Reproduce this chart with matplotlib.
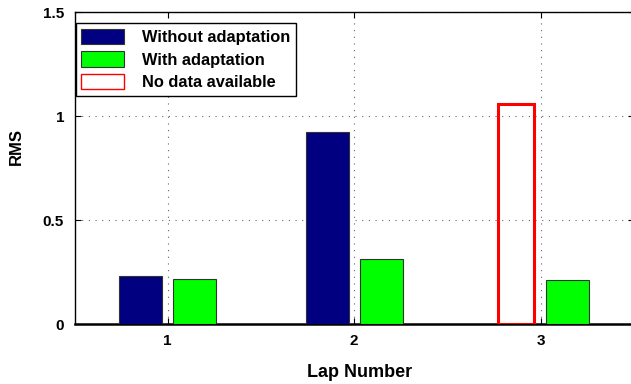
import matplotlib
matplotlib.use("Agg")
import matplotlib.pyplot as plt
import numpy as np
from matplotlib.patches import Patch
from matplotlib.ticker import FormatStrFormatter

plt.rcParams['font.family'] = ['Liberation Sans', 'DejaVu Sans']
plt.rcParams['font.weight'] = 'bold'

laps = [1, 2, 3]
rms_without = [0.231, 0.922, None]   # lap 3 has no data
rms_with = [0.218, 0.315, 0.212]
no_data_height = 1.06
y_ticks = [0, 0.5, 1, 1.5]

bar_w = 0.23
offset = 0.144

fig = plt.figure(figsize=(6.31, 3.84), dpi=100)
ax = fig.add_axes([74.5 / 631, 60 / 384, 559.5 / 631, 311.7 / 384])

x = np.array(laps, dtype=float)
have = [i for i, v in enumerate(rms_without) if v is not None]
missing = [i for i, v in enumerate(rms_without) if v is None]

ax.bar(x[have] - offset, [rms_without[i] for i in have], width=bar_w,
       color='#000080', edgecolor='#333333', linewidth=0.8, zorder=3)
ax.bar(x + offset, rms_with, width=bar_w,
       color='#00ff00', edgecolor='#333333', linewidth=0.8, zorder=3)
# placeholder outline where no measurement exists
ax.bar(x[missing] - 0.133, [no_data_height] * len(missing), width=0.192,
       facecolor='none', edgecolor='#ff0000', linewidth=2.2, zorder=3)

ax.set_xlim(0.5, 3.5)
ax.set_ylim(0, 1.5)
ax.set_xticks(laps)
ax.set_yticks(y_ticks)
ax.yaxis.set_major_formatter(FormatStrFormatter('%g'))

ax.grid(True, color='0.4', linestyle=(0, (1, 5)), linewidth=0.8, zorder=0)
ax.set_axisbelow(True)

ax.tick_params(direction='in', top=True, right=True, length=4.5,
               width=0.8, labelsize=11, pad=7.5)
for lab in ax.get_xticklabels() + ax.get_yticklabels():
    lab.set_fontweight('bold')

for side in ['top', 'left', 'right']:
    ax.spines[side].set_linewidth(1.0)
ax.spines['bottom'].set_linewidth(1.8)

ax.set_xlabel('Lap Number', fontsize=13, fontweight='bold')
ax.set_ylabel('RMS', fontsize=12, fontweight='bold')
ax.xaxis.set_label_coords(0.510, -0.128)
ax.yaxis.set_label_coords(-0.090, 0.569)

handles = [
    Patch(facecolor='#000080', edgecolor='#333333', linewidth=0.8),
    Patch(facecolor='#00ff00', edgecolor='#333333', linewidth=0.8),
    Patch(facecolor='white', edgecolor='#ff0000', linewidth=1.0),
]
labels = ['Without adaptation', 'With adaptation', 'No data available']
leg = ax.legend(handles, labels, loc='upper left', bbox_to_anchor=(0.002, 0.965),
                borderaxespad=0, fancybox=False, framealpha=1, edgecolor='black',
                prop={'size': 11.8, 'weight': 'bold'}, handlelength=2.6,
                handleheight=1.05, handletextpad=1.1, labelspacing=0.38,
                borderpad=0.35)
leg.get_frame().set_linewidth(1.0)
leg.set_zorder(5)

fig.savefig('out.png', dpi=100)
